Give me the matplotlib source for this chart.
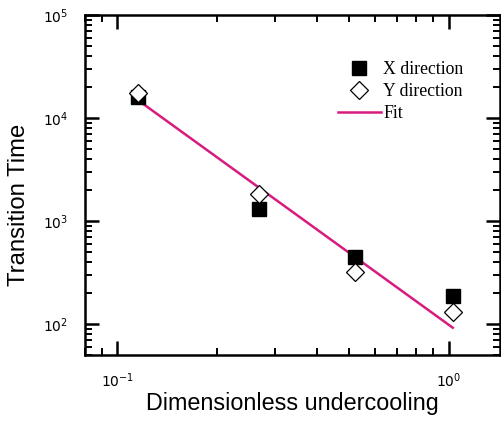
import matplotlib
matplotlib.use("Agg")
import matplotlib.pyplot as plt

plt.rcParams["mathtext.fontset"] = "custom"
plt.rcParams["mathtext.rm"] = "Liberation Sans"
plt.rcParams["mathtext.it"] = "Liberation Sans"
plt.rcParams["axes.unicode_minus"] = False

# values
x_dir_x = [0.1156, 0.268, 0.521, 1.03]
x_dir_y = [16000, 1306, 449, 188]
y_dir_x = [0.1156, 0.268, 0.521, 1.03]
y_dir_y = [17500, 1820, 321, 132]
fit_x = [0.1156, 1.03]
fit_y = [14900, 92]

fig = plt.figure(figsize=(5.01, 4.21), dpi=100)
ax = fig.add_axes([85 / 501, 66 / 421, 415 / 501, 340 / 421])

fit_color = "#d81b7f"
ax.plot(fit_x, fit_y, color=fit_color, lw=1.8, label="Fit", zorder=2)
ax.plot(x_dir_x, x_dir_y, ls="none", marker="s", ms=10.5, color="black",
        label="X direction", zorder=3)
ax.plot(y_dir_x, y_dir_y, ls="none", marker="D", ms=9.5, mfc="white",
        mec="black", mew=0.9, label="Y direction", zorder=4)

ax.set_xscale("log")
ax.set_yscale("log")
ax.set_xlim(0.08, 1.43)
ax.set_ylim(50, 1e5)

for s in ax.spines.values():
    s.set_linewidth(1.8)

ax.tick_params(which="both", direction="in", top=True, right=True,
               labelsize=10, pad=12)
ax.tick_params(which="major", length=10, width=1.8)
ax.tick_params(which="minor", length=5, width=1.4)
ax.tick_params(axis="x", which="major", pad=12)

ax.set_xlabel("Dimensionless undercooling", fontsize=16.8,
              family="Liberation Sans")
ax.set_ylabel("Transition Time", fontsize=17.2, family="Liberation Sans")
ax.xaxis.set_label_coords(0.5, -0.11)
ax.yaxis.set_label_coords(-0.132, 0.441)

h, l = ax.get_legend_handles_labels()
order = [1, 2, 0]
ax.legend([h[i] for i in order], [l[i] for i in order], frameon=False,
          loc="upper left", bbox_to_anchor=(0.61, 0.865), borderpad=0,
          borderaxespad=0, handlelength=2.4, handletextpad=0.15,
          labelspacing=0.29, prop={"family": "Liberation Serif", "size": 12.8})

fig.savefig("out.png", dpi=100)
